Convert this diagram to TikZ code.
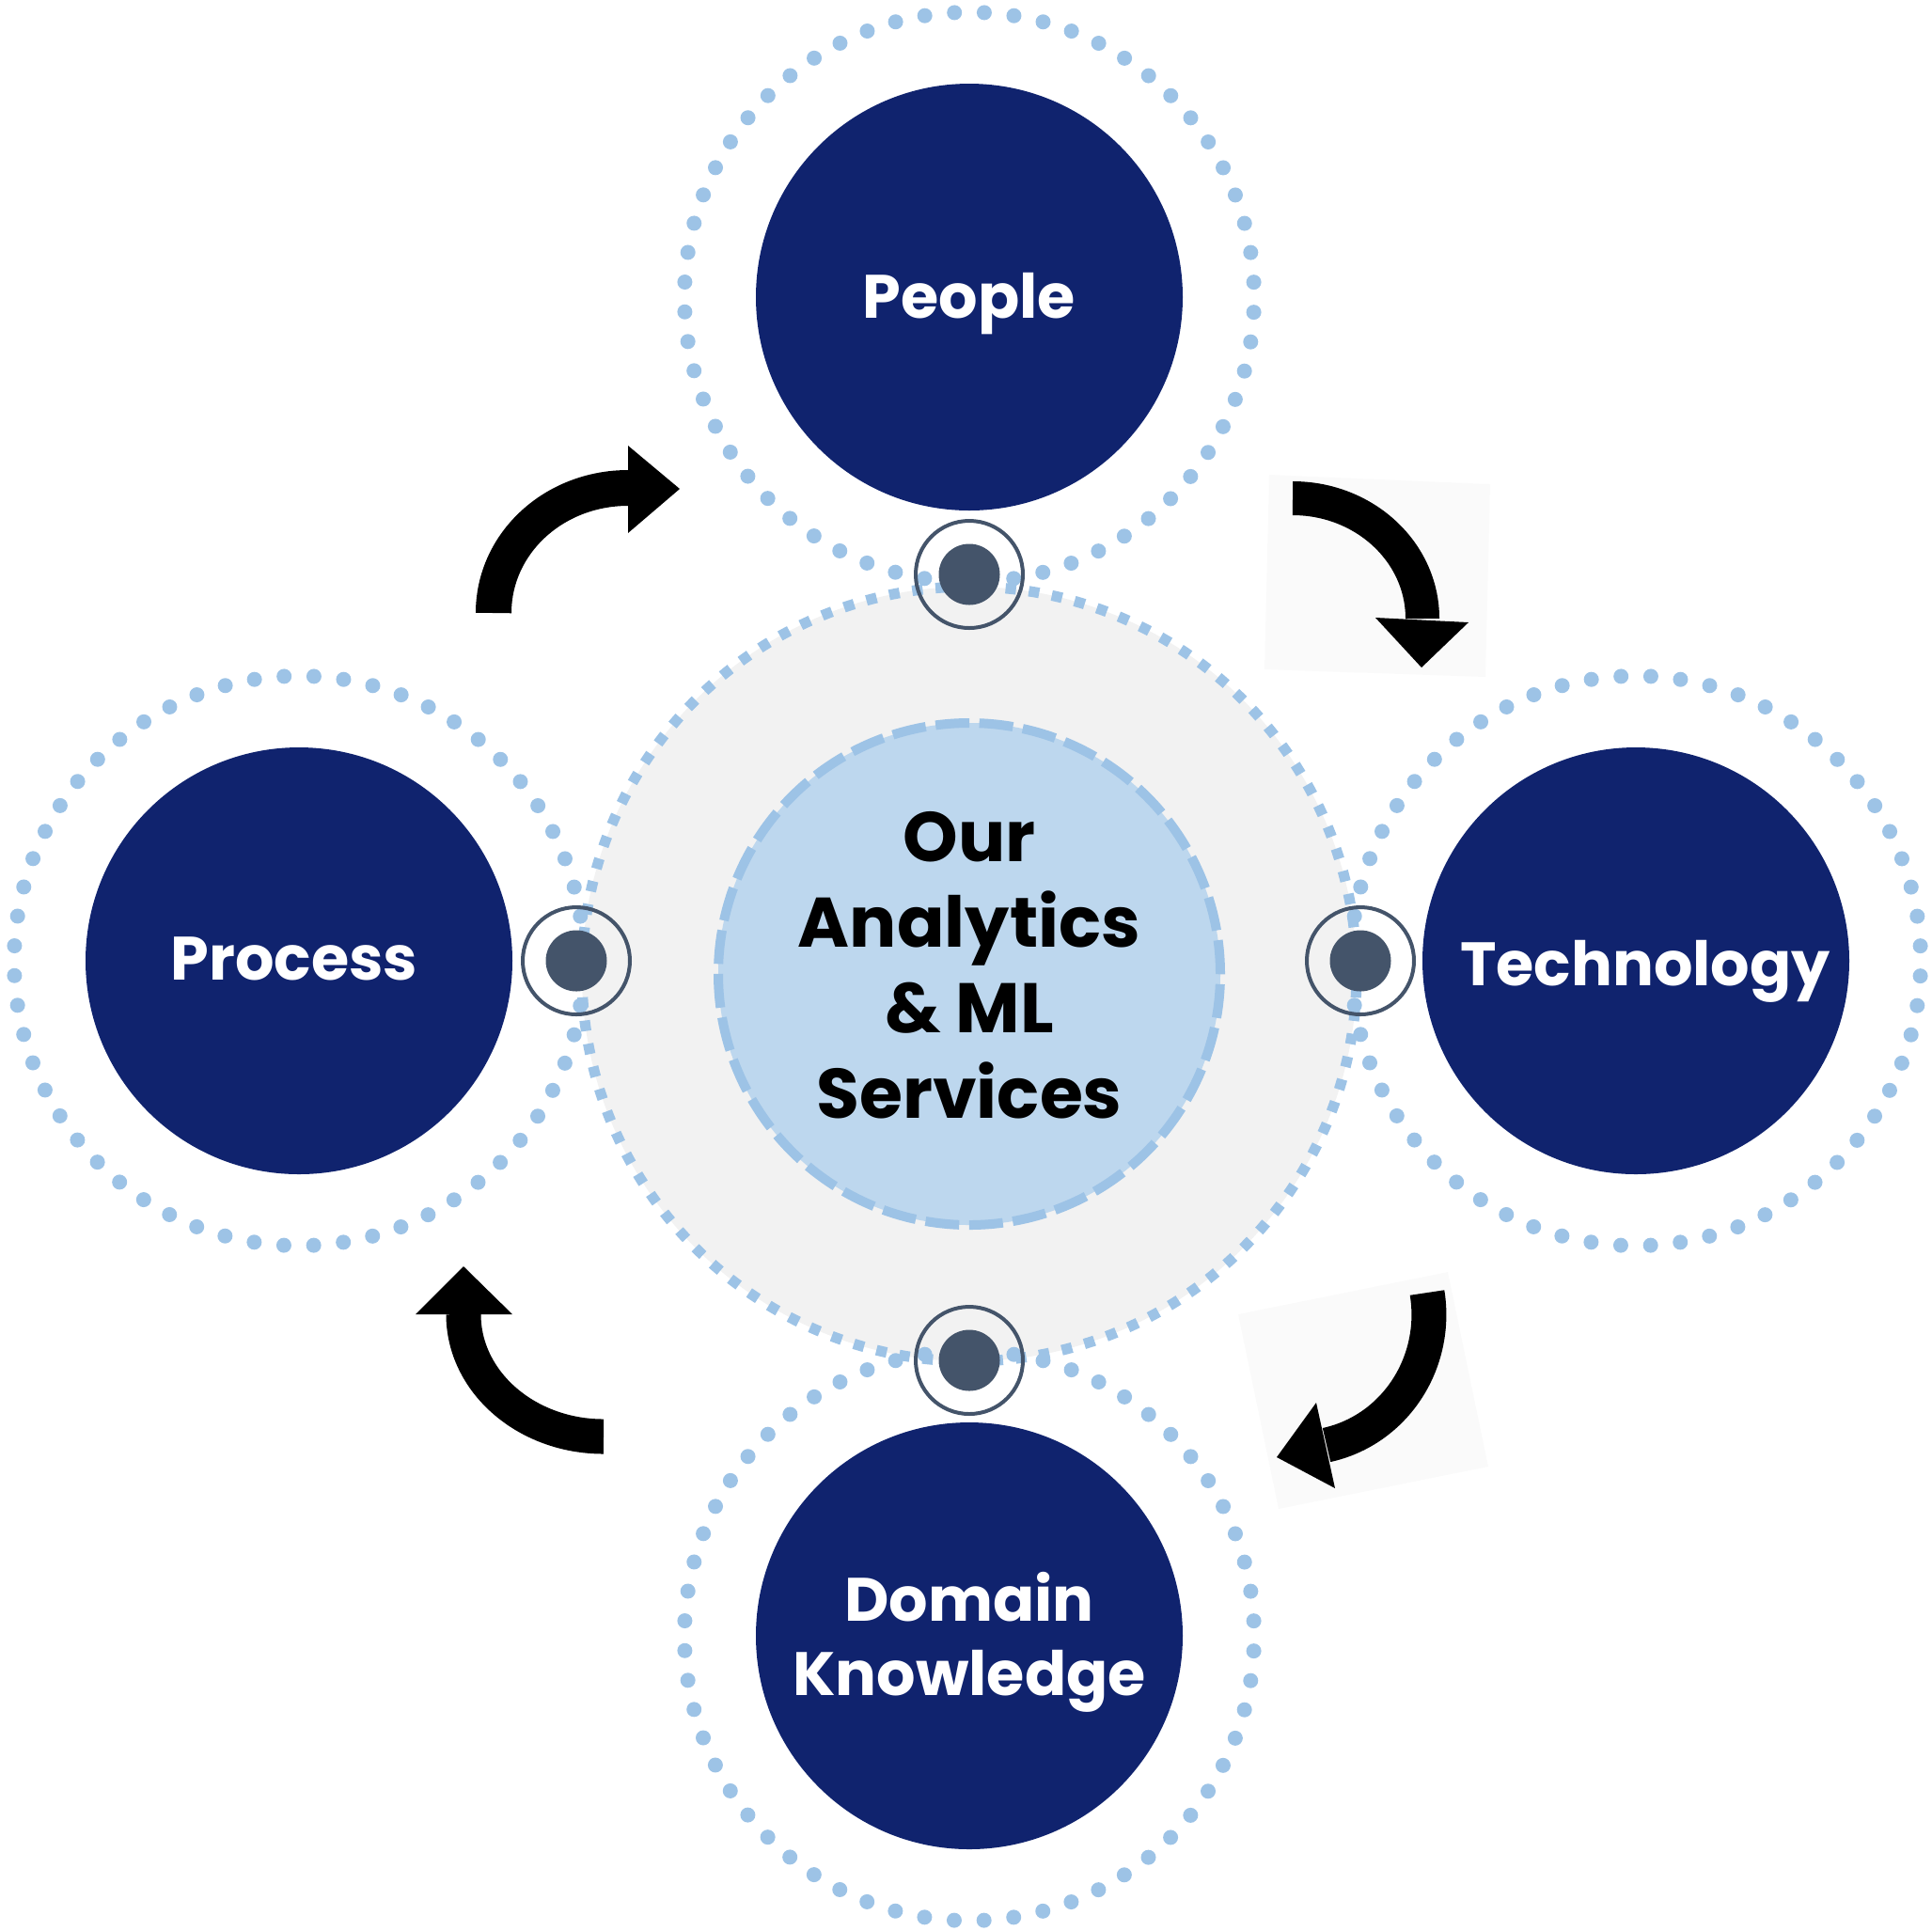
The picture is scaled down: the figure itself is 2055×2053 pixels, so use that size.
\documentclass[tikz,border=0pt]{standalone}
\usepackage{fontspec}
\setmainfont{Poppins}
\definecolor{navy}{HTML}{10236E}
\definecolor{dotblue}{HTML}{9DC3E6}
\definecolor{lightblue}{HTML}{BDD7EE}
\definecolor{grayfill}{HTML}{F2F2F2}
\definecolor{slate}{HTML}{44546A}
\definecolor{faint}{HTML}{FAFAFA}
\begin{document}
\begin{tikzpicture}[x=0.5pt,y=-0.5pt,
  sat/.style={circle,fill=navy,minimum size=227pt,inner sep=0pt},
  dotring/.style={draw=dotblue,line width=8pt,line cap=round,dash pattern=on 0pt off 15.865pt,dash phase=7.93pt},
  conn/.style={circle,draw=slate,line width=2pt,minimum size=57pt,inner sep=0pt},
  lab/.style={text=white,font=\fontsize{32.6}{39.5}\selectfont\bfseries,align=center,inner sep=0pt},
  corelab/.style={text=black,font=\fontsize{37.3}{45.5}\selectfont\bfseries,align=center,inner sep=0pt},
  bigarrow/.style={draw=black,line width=19pt},
  arrowhead/.style={fill=black},
  backbox/.style={fill=faint},
]
\useasboundingbox (0,0) rectangle (2055,2053);

% faint backgrounds behind two arrows
\fill[backbox] (1350,505) -- (1585,515) -- (1580,720) -- (1345,712) -- cycle;
\fill[backbox] (1317,1398) -- (1540,1353) -- (1583,1560) -- (1360,1605) -- cycle;

% central gray circle and core
\coordinate (C) at (1031,1036);
\node[circle,fill=grayfill,minimum size=412pt,inner sep=0pt] (gray) at (C) {};
\draw[draw=dotblue,line width=5.6pt,dash pattern=on 5.6pt off 6.846pt] (C) circle[radius=206pt];
\node[circle,fill=lightblue,minimum size=267pt,inner sep=0pt] (core) at (C) {};
\draw[draw=dotblue,line width=5pt,dash pattern=on 18pt off 5.3pt] (C) circle[radius=133.5pt];

% satellites
\node[sat] (people) at (1031,316) {};
\node[sat] (process) at (318,1022) {};
\node[sat] (tech) at (1740,1022) {};
\node[sat] (domain) at (1031,1740) {};
\foreach \n in {people,process,tech,domain}{
  \draw[dotring] (\n.center) circle[radius=151.5pt];
}

% connectors
\node[conn] (cT) at (1031,611) {};
\node[conn] (cB) at (1031,1447) {};
\node[conn] (cL) at (613,1022) {};
\node[conn] (cR) at (1447,1022) {};
\foreach \n in {cT,cB,cL,cR}{
  \fill[slate] (\n.center) circle[radius=16.25pt];
}

% labels
\node[lab,anchor=base] (tPeople) at (1031,338) {People};
\node[lab,anchor=base] (tProcess) at (313,1042) {Process};
\node[lab,anchor=base] (tTech) at (1750,1048) {Technology};
\node[lab] (tDomain) at (1031,1747) {Domain\\Knowledge};
\node[corelab] (tCore) at (1031,1027) {Our\\Analytics\\\&~ML\\Services};

% curved arrows
\coordinate (a1s) at (525,652);
\coordinate (a1e) at (668,519);
\draw[bigarrow] (a1s) .. controls (525,578) and (589,519) .. (a1e);
\fill[arrowhead] (668,474) -- (723,520) -- (668,567) -- cycle;

\coordinate (a2s) at (1375,530);
\coordinate (a2e) at (1513,658);
\draw[bigarrow,line width=18pt] (a2s) .. controls (1451,530) and (1513,587) .. (a2e);
\fill[arrowhead] (1463,657) -- (1512,710) -- (1562,662) -- cycle;

\coordinate (a3s) at (1518,1375);
\coordinate (a3e) at (1411,1537);
\draw[bigarrow,line width=18.5pt] (a3s) .. controls (1530,1449) and (1484,1521) .. (a3e);
\fill[arrowhead] (1400,1492) -- (1358,1550) -- (1420,1583) -- cycle;

\coordinate (a4s) at (642,1528);
\coordinate (a4e) at (493,1398);
\draw[bigarrow,line width=18.5pt] (a4s) .. controls (560,1528) and (493,1470) .. (a4e);
\fill[arrowhead] (442,1398) -- (493,1347) -- (545,1398) -- cycle;
\end{tikzpicture}
\end{document}
